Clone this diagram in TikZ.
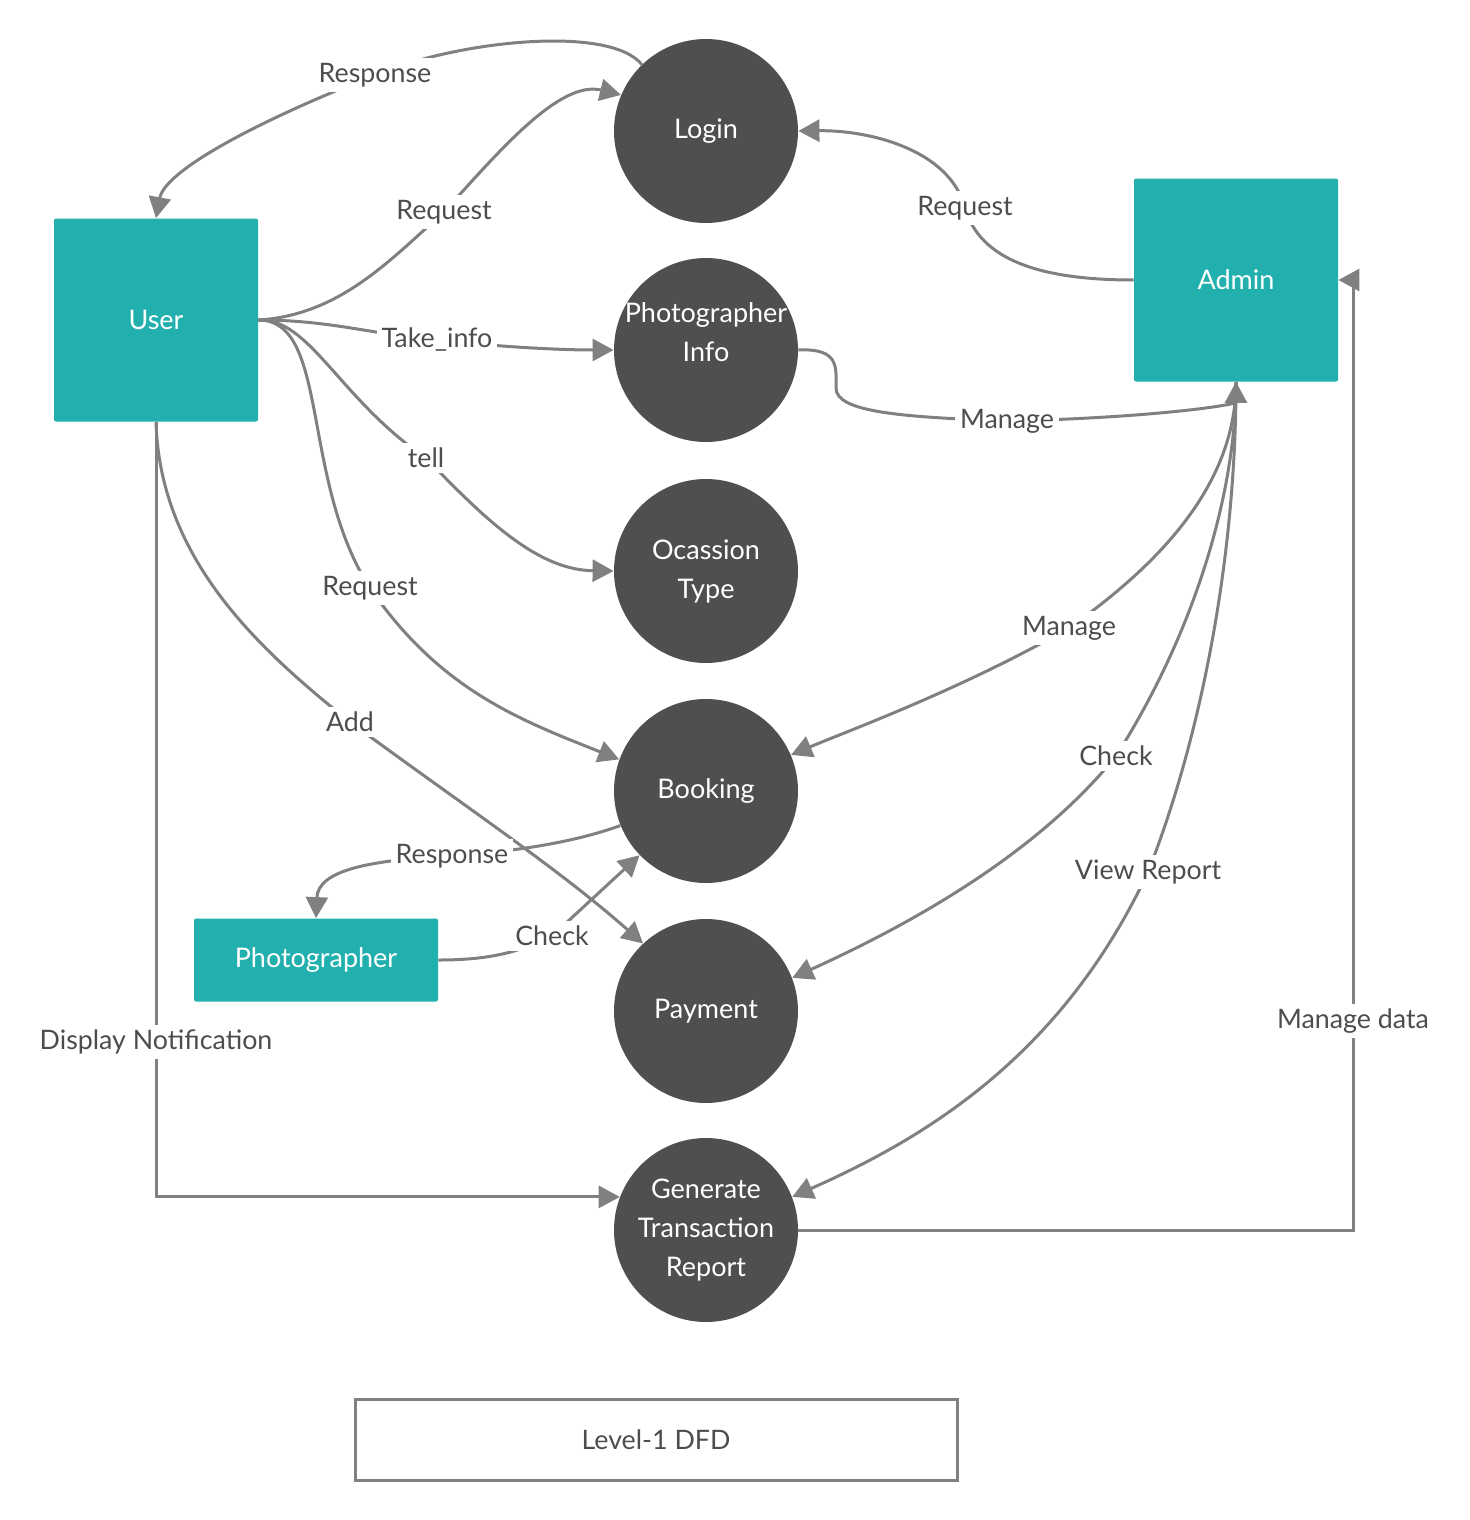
\documentclass[tikz,border=0pt]{standalone}
\usepackage{fontspec}
\setmainfont{Lato}
\usetikzlibrary{arrows.meta}
\definecolor{tealbox}{RGB}{34,176,174}
\definecolor{disc}{RGB}{79,79,79}
\definecolor{wire}{RGB}{128,128,128}
\definecolor{ink}{RGB}{77,77,77}

\begin{document}
\begin{tikzpicture}[x=0.5pt,y=-0.5pt,>={Triangle[length=10.5pt,width=11pt]},
    proc/.style={circle,fill=disc,text=white,minimum size=92pt,inner sep=0pt,align=center,font=\fontsize{13.5}{19.5}\selectfont},
    ent/.style={rectangle,rounded corners=1pt,fill=tealbox,text=white,font=\fontsize{13.5}{19.5}\selectfont},
    flow/.style={draw=wire,line width=1.5pt},
    lbl/.style={fill=white,text=ink,inner sep=2.5pt,font=\fontsize{13.4}{16}\selectfont}]
\useasboundingbox (0,0) rectangle (1469,1520);

% processes
\node[proc] (login) at (706,131) {Login};
\node[proc,inner sep=-6pt] (pinfo) at (706,350) {Photographer\\Info\\[-2pt]\mbox{}};
\node[proc] (occ) at (706,571) {Ocassion\\Type};
\node[proc] (booking) at (706,791) {Booking};
\node[proc] (payment) at (706,1011) {Payment};
\node[proc] (gen) at (706,1230) {Generate\\Transaction\\Report};

% entities
\node[ent,minimum width=102pt,minimum height=101.5pt] (user) at (156,320) {User};
\node[ent,minimum width=102pt,minimum height=101.5pt] (admin) at (1236,280) {Admin};
\node[ent,minimum width=122pt,minimum height=41.5pt] (photog) at (316,960) {Photographer};

% user side
\draw[flow,->] (login.134) .. controls (610,25) and (460,40) .. (375,75) node[lbl]{Response}
    .. controls (260,120) and (165,170) .. (user.north);
\draw[flow,->] (user.east) .. controls (340,315) and (390,260) .. (444,212) node[lbl]{Request}
    .. controls (500,150) and (560,80) .. (login.157);
\draw[flow,->] (user.east) .. controls (330,320) and (370,334) .. (437,340) node[lbl]{Take\_info}
    .. controls (500,347) and (560,350) .. (pinfo.west);
\draw[flow,->] (user.east) .. controls (310,318) and (340,400) .. (426,458) node[lbl]{tell}
    .. controls (490,525) and (540,570) .. (occ.west);
\draw[flow,->] (user.east) .. controls (330,320) and (300,480) .. (370,588) node[lbl]{Request}
    .. controls (440,690) and (520,720) .. (booking.160);
\draw[flow,->] (user.south) .. controls (160,560) and (260,650) .. (350,722) node[lbl]{Add}
    .. controls (470,810) and (560,870) .. (payment.133);
\draw[flow,->] (user.south) |- (gen.159) node[lbl,pos=0.4]{Display Notification};

% photographer
\draw[flow,->] (booking.202) .. controls (580,840) and (530,850) .. (452,856) node[lbl]{Response}
    .. controls (370,860) and (318,870) .. (photog.north);
\draw[flow,->] (photog.east) .. controls (480,960) and (515,955) .. (552,936) node[lbl]{Check}
    -- (booking.224);

% admin side
\draw[flow,->] (admin.west) .. controls (1040,280) and (980,260) .. (965,208) node[lbl]{Request}
    .. controls (950,150) and (870,130) .. (login.east);
\draw[flow,->] (pinfo.east) .. controls (840,348) and (836,368) .. (836,388)
    .. controls (836,412) and (900,417) .. (1007,421) node[lbl]{Manage}
    .. controls (1150,418) and (1236,405) .. (admin.south);
\draw[flow,->] (admin.south) .. controls (1236,470) and (1180,550) .. (1069,628) node[lbl]{Manage}
    .. controls (960,690) and (850,730) .. (booking.23);
\draw[flow,->] (admin.south) .. controls (1236,500) and (1190,640) .. (1116,756) node[lbl]{Check}
    .. controls (1040,850) and (920,920) .. (payment.21);
\draw[flow,->] (admin.south) .. controls (1236,560) and (1200,740) .. (1148,872) node[lbl]{View Report}
    .. controls (1060,1060) and (920,1140) .. (gen.21);
\draw[flow,->] (gen.east) -- (1353,1230) |- (admin.east) node[lbl,pos=0.11]{Manage data};

% caption
\node[draw=wire,line width=1.5pt,minimum width=301pt,minimum height=40.5pt,text=ink,font=\fontsize{13.4}{16}\selectfont] (title) at (656,1440) {Level-1 DFD};
\end{tikzpicture}
\end{document}
